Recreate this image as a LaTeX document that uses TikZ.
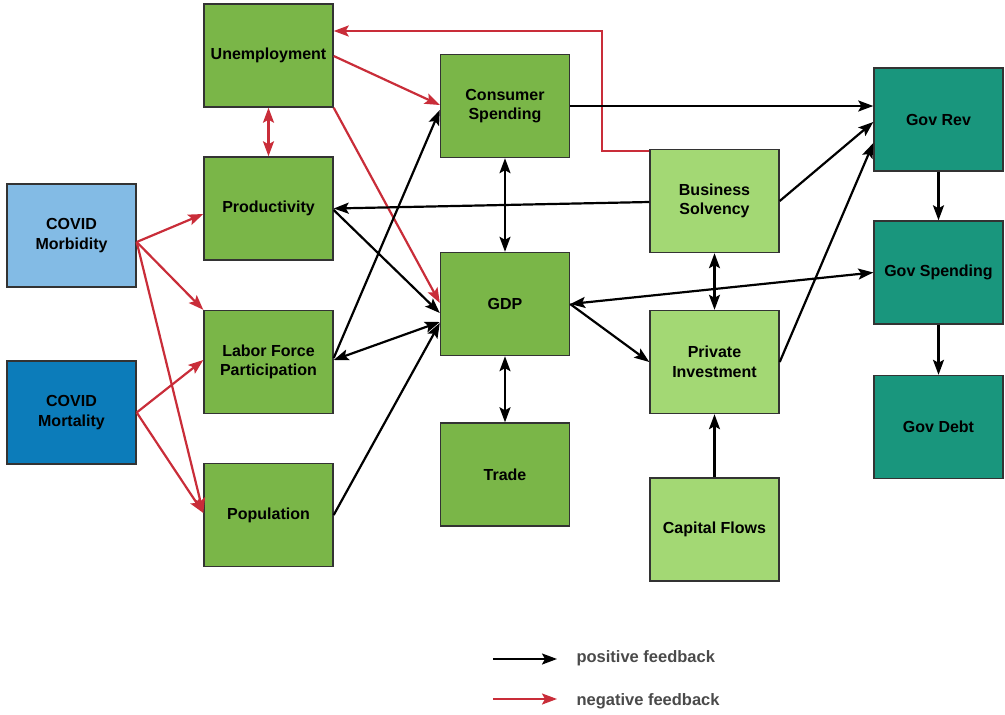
\documentclass[tikz,border=0pt]{standalone}
\usepackage{fontspec}
\setmainfont{Liberation Sans}
\usetikzlibrary{arrows.meta,calc}

\definecolor{boxgreen}{HTML}{7AB648}
\definecolor{boxlight}{HTML}{A3D874}
\definecolor{boxteal}{HTML}{19967D}
\definecolor{boxsky}{HTML}{83BBE5}
\definecolor{boxblue}{HTML}{0C7CBA}
\definecolor{negred}{HTML}{C92D39}
\definecolor{edgegray}{HTML}{333333}
\definecolor{legendgray}{HTML}{4A4A4A}

\tikzset{
  >={Stealth[length=15pt,width=11pt,inset=3pt]},
  factor/.style={draw=edgegray, line width=1.4pt, rectangle,
    minimum width=129pt, minimum height=103pt, inner sep=2pt,
    align=center, font=\fontsize{16}{19.5}\selectfont\bfseries},
  greenbox/.style={factor, fill=boxgreen},
  lightbox/.style={factor, fill=boxlight},
  tealbox/.style={factor, fill=boxteal},
  skybox/.style={factor, fill=boxsky},
  deepbox/.style={factor, fill=boxblue},
  posfb/.style={draw=black, line width=2.2pt},
  negfb/.style={draw=negred, line width=2.2pt},
  legendtext/.style={anchor=west, text=legendgray,
    font=\fontsize{16.5}{19}\selectfont\bfseries}
}

\begin{document}
\begin{tikzpicture}[x=1pt,y=-1pt]
\useasboundingbox (0,0) rectangle (1005,715);

% factor boxes
\node[greenbox] (unemp)  at (268.5,55.5)  {Unemployment};
\node[greenbox] (prod)   at (268.5,208.5) {Productivity};
\node[greenbox] (labor)  at (268.5,362)   {Labor Force\\Participation};
\node[greenbox] (pop)    at (268.5,515)   {Population};
\node[skybox]   (morb)   at (71.5,235.5)  {COVID\\Morbidity};
\node[deepbox]  (mort)   at (71.5,412.5)  {COVID\\Mortality};
\node[greenbox] (cons)   at (505,106)     {Consumer\\Spending};
\node[greenbox] (gdp)    at (505,304)     {GDP};
\node[greenbox] (trade)  at (505,474.5)   {Trade};
\node[lightbox] (bus)    at (714.5,201)   {Business\\Solvency};
\node[lightbox] (priv)   at (714.5,362)   {Private\\Investment};
\node[lightbox] (cap)    at (714.5,529.5) {Capital Flows};
\node[tealbox]  (rev)    at (938.5,119.5) {Gov Rev};
\node[tealbox]  (gspend) at (938.5,272.5) {Gov Spending};
\node[tealbox]  (debt)   at (938.5,427)   {Gov Debt};

% negative feedback links
\draw[negfb,->] ($(bus.north west)+(0,2.5)$) -- ++(-47,0)
  |- ($(unemp.east)+(0,-24.5)$);
\draw[negfb,->] ($(unemp.east)+(0,0.5)$) -- ($(cons.west)+(0,-1)$);
\draw[negfb,->] (unemp.south east) -- ($(gdp.west)+(0,-1)$);
\draw[negfb,<->] (unemp.south) -- (prod.north);
\coordinate (mbout) at ($(morb.east)+(0,6.5)$);
\draw[negfb,->] (mbout) -- ($(prod.west)+(0,5.5)$);
\draw[negfb,->] (mbout) -- (labor.north west);
\draw[negfb,->] (mbout) -- ($(pop.west)+(0,-2)$);
\draw[negfb,->] (mort.east) -- ($(labor.west)+(0,-2)$);
\draw[negfb,->] (mort.east) -- ($(pop.west)+(0,-2)$);

% positive feedback links
\draw[posfb,->] ($(bus.west)+(0,1)$) -- (prod.east);
\draw[posfb,->] ($(prod.east)+(0,1.5)$) -- ($(gdp.west)+(0,9)$);
\draw[posfb,->] ($(labor.east)+(0,-4)$) -- ($(cons.west)+(0,4)$);
\draw[posfb,<->] ($(labor.east)+(0,-2)$) -- ($(gdp.west)+(0,18)$);
\draw[posfb,->] (pop.east) -- ($(gdp.west)+(0,19)$);
\draw[posfb,<->] (cons.south) -- (gdp.north);
\draw[posfb,<->] (gdp.south) -- (trade.north);
\draw[posfb,->] (cons.east) -- (cons.east -| rev.west);
\draw[posfb,->] (bus.east) -- ($(rev.west)+(0,2.5)$);
\draw[posfb,->] (priv.east) -- ($(rev.west)+(0,23.5)$);
\draw[posfb,<->] (bus.south) -- (priv.north);
\draw[posfb,<->] (gdp.east) -- (gspend.west);
\draw[posfb,->] (gdp.east) -- (priv.west);
\draw[posfb,->] (cap.north) -- (priv.south);
\draw[posfb,->] (rev.south) -- (gspend.north);
\draw[posfb,->] (gspend.south) -- (debt.north);

% legend
\coordinate (lp0) at (493,659);
\coordinate (lp1) at (557,659);
\coordinate (ln0) at (493,699);
\coordinate (ln1) at (557,699);
\draw[posfb,->] (lp0) -- (lp1);
\draw[negfb,->] (ln0) -- (ln1);
\node[legendtext] (lpt) at (573,658) {positive feedback};
\node[legendtext] (lnt) at (573,701) {negative feedback};
\end{tikzpicture}
\end{document}
